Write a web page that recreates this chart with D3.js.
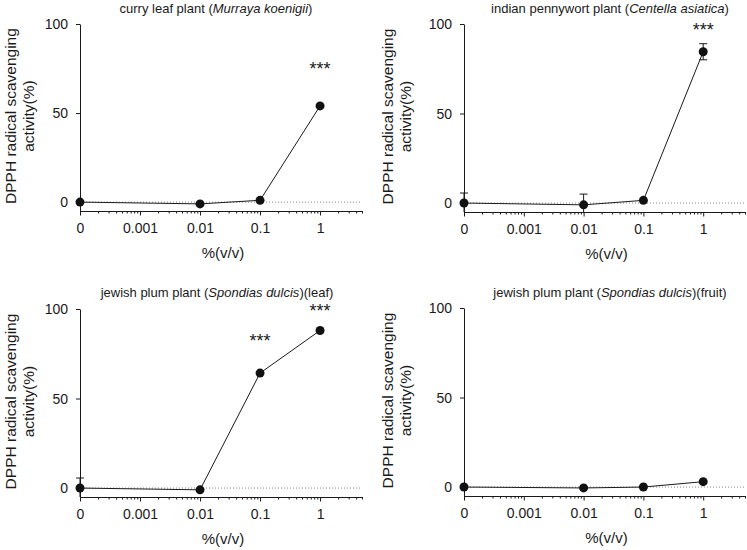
<!DOCTYPE html>
<html>
<head>
<meta charset="utf-8">
<script src="https://cdn.jsdelivr.net/npm/d3@7"></script>
<style>
  body { margin: 0; background: #fff; }
  svg { font-family: "Liberation Sans", Arial, sans-serif; }
</style>
</head>
<body>
<svg id="chart" width="747" height="550"></svg>
<script>
// data
const concValues = [0, 0.01, 0.1, 1];          // %(v/v), 0 drawn at 1e-4
const concTicks = [1e-4, 1e-3, 1e-2, 1e-1, 1];
const concLabels = ["0", "0.001", "0.01", "0.1", "1"];
const yTicks = [0, 50, 100];

const curryMean = [0, -1, 1, 54];
const curryErr = [0, 0, 0, 0];
const curryStarsX = [1];
const curryStarsY = [77];

const pennyMean = [0, -1, 1.5, 84.5];
const pennyErr = [5.6, 6, 0, 4.5];
const pennyStarsX = [1];
const pennyStarsY = [99];

const leafMean = [0, -1, 64.2, 88];
const leafErr = [5.6, 0, 0, 0];
const leafStarsX = [0.1, 1];
const leafStarsY = [84.5, 101];

const fruitMean = [0, -0.5, 0, 3];
const fruitErr = [0, 0, 0, 0];
const fruitStarsX = [];
const fruitStarsY = [];

const panels = [
  {common: "curry leaf plant (", latin: "Murraya koenigii", tail: ")", mean: curryMean, err: curryErr, sx: curryStarsX, sy: curryStarsY,
   col: 0, left: 80, right: 362, top: 24, bottom: 211, titleX: 216, titleY: 13},
  {common: "indian pennywort plant (", latin: "Centella asiatica", tail: ")", mean: pennyMean, err: pennyErr, sx: pennyStarsX, sy: pennyStarsY,
   col: 377, left: 464, right: 745, top: 24, bottom: 212, titleX: 610, titleY: 13},
  {common: "jewish plum plant (", latin: "Spondias dulcis", tail: ")(leaf)", mean: leafMean, err: leafErr, sx: leafStarsX, sy: leafStarsY,
   col: 0, left: 80, right: 362, top: 309, bottom: 497, titleX: 217, titleY: 297},
  {common: "jewish plum plant (", latin: "Spondias dulcis", tail: ")(fruit)", mean: fruitMean, err: fruitErr, sx: fruitStarsX, sy: fruitStarsY,
   col: 377, left: 464, right: 745, top: 308, bottom: 496, titleX: 610, titleY: 297}
];

const svg = d3.select("#chart");
const ink = "#1a1a1a";
const toX = v => v === 0 ? 1e-4 : v;

panels.forEach((p, i) => {
  const x = d3.scaleLog().domain([1e-4, 5]).range([p.left, p.right]);
  const y = d3.scaleLinear().domain([-5, 100]).range([p.bottom, p.top]);
  const g = svg.append("g");

  // clip for error bars
  g.append("clipPath").attr("id", "clip" + i)
    .append("rect").attr("x", p.left - 10).attr("y", p.top - 20)
    .attr("width", p.right - p.left + 20).attr("height", p.bottom - p.top + 20);

  // title
  const t = g.append("text").attr("x", p.titleX).attr("y", p.titleY)
    .attr("text-anchor", "middle").attr("font-size", 13).attr("fill", ink);
  t.append("tspan").text(p.common);
  t.append("tspan").attr("font-style", "italic").text(p.latin);
  t.append("tspan").text(p.tail);

  // zero reference line
  g.append("line").attr("x1", p.left).attr("x2", p.right)
    .attr("y1", y(0)).attr("y2", y(0))
    .attr("stroke", "#888").attr("stroke-width", 1).attr("stroke-dasharray", "1,2");

  // y axis
  const ya = g.append("g").attr("transform", `translate(${p.left},0)`)
    .call(d3.axisLeft(y).tickValues(yTicks).tickSize(4).tickPadding(8).tickSizeOuter(0));
  ya.select(".domain").attr("stroke", ink);
  ya.selectAll(".tick line").attr("stroke", ink);
  ya.selectAll(".tick text").attr("font-size", 14).attr("fill", ink).attr("font-family", null);

  // x axis minor ticks
  const minor = [];
  [1e-4, 1e-3, 1e-2, 1e-1, 1].forEach(d => {
    for (let k = 2; k <= 9; k++) if (d * k <= 5) minor.push(d * k);
  });
  g.append("g").attr("transform", `translate(0,${p.bottom})`)
    .call(d3.axisBottom(x).tickValues(minor).tickSize(2.5).tickFormat("").tickSizeOuter(0))
    .call(a => a.select(".domain").remove())
    .selectAll("line").attr("stroke", ink);

  // x axis major ticks
  const xa = g.append("g").attr("transform", `translate(0,${p.bottom})`)
    .call(d3.axisBottom(x).tickValues(concTicks).tickSize(4.5).tickPadding(8).tickSizeOuter(0)
      .tickFormat((d, j) => concLabels[j]));
  xa.select(".domain").attr("stroke", ink);
  xa.selectAll(".tick line").attr("stroke", ink);
  xa.selectAll(".tick text").attr("font-size", 14).attr("fill", ink).attr("font-family", null);

  // x title
  g.append("text").attr("x", (p.left + p.right) / 2 + 2).attr("y", p.bottom + 47)
    .attr("text-anchor", "middle").attr("font-size", 15).attr("fill", ink).text("%(v/v)");

  // y title
  const cy = (y(0) + y(100)) / 2 + 3;
  g.append("text").attr("transform", `translate(${p.col + 16},${cy}) rotate(-90)`)
    .attr("text-anchor", "middle").attr("font-size", 15.5).attr("fill", ink).text("DPPH radical scavenging");
  g.append("text").attr("transform", `translate(${p.col + 34},${cy}) rotate(-90)`)
    .attr("text-anchor", "middle").attr("font-size", 15.5).attr("fill", ink).text("activity(%)");

  const pts = concValues.map((c, j) => ({c: toX(c), m: p.mean[j], e: p.err[j]}));

  // error bars
  const eb = g.append("g").attr("clip-path", `url(#clip${i})`).attr("stroke", ink).attr("stroke-width", 1);
  pts.filter(d => d.e > 0).forEach(d => {
    const cx = x(d.c);
    eb.append("line").attr("x1", cx).attr("x2", cx).attr("y1", y(d.m - d.e)).attr("y2", y(d.m + d.e));
    eb.append("line").attr("x1", cx - 4).attr("x2", cx + 4).attr("y1", y(d.m + d.e)).attr("y2", y(d.m + d.e));
    eb.append("line").attr("x1", cx - 4).attr("x2", cx + 4).attr("y1", y(d.m - d.e)).attr("y2", y(d.m - d.e));
  });

  // line + points
  g.append("path").datum(pts)
    .attr("d", d3.line().x(d => x(d.c)).y(d => y(d.m)))
    .attr("fill", "none").attr("stroke", ink).attr("stroke-width", 1);
  g.selectAll(".dot").data(pts).enter().append("circle")
    .attr("cx", d => x(d.c)).attr("cy", d => y(d.m)).attr("r", 4.5).attr("fill", "#111");

  // significance stars
  p.sx.forEach((sx, j) => {
    g.append("text").attr("x", x(sx)).attr("y", y(p.sy[j]) + 10)
      .attr("text-anchor", "middle").attr("font-size", 18).attr("fill", ink).text("***");
  });
});
</script>
</body>
</html>
